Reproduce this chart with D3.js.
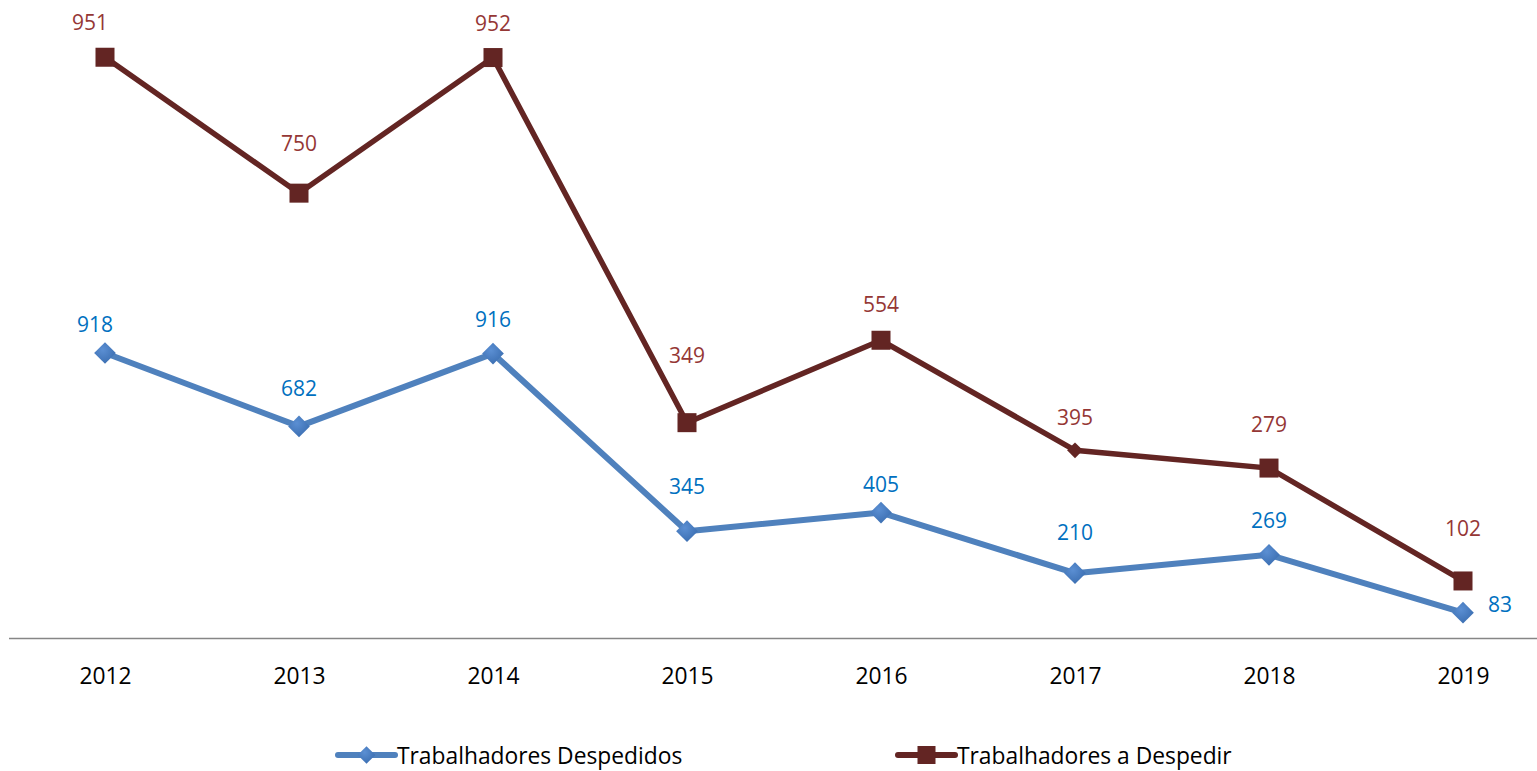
<!DOCTYPE html>
<html><head><meta charset="utf-8">
<script src="https://cdn.jsdelivr.net/npm/d3@7"></script>
<style>html,body{margin:0;padding:0;background:#fff;}svg{display:block;font-family:"Open Sans",sans-serif;}</style>
</head><body>
<svg id="c" width="1537" height="771"></svg>
<script>
const years = ["2012","2013","2014","2015","2016","2017","2018","2019"];
const despedidos = [918, 682, 916, 345, 405, 210, 269, 83];
const aDespedir = [951, 750, 952, 349, 554, 395, 279, 102];
const seriesNames = ["Trabalhadores Despedidos", "Trabalhadores a Despedir"];
// label vertical offsets (px above point) as placed in original
const blueLabelDy = [29, 38, 35, 45, 29, 41, 35, 0];
const redLabelDy = [35, 50, 35, 68, 36, 33, 44, 53];
const redMarker = ["sq","sq","sq","sq","sq","dia","sq","sq"];

const FONT = '"Open Sans",sans-serif';
const svg = d3.select("#c");
const x = d3.scalePoint().domain(years).range([8, 1560]).padding(0.5);
const y = d3.scaleLinear().domain([0, 2000]).range([638.5, 16.5]);

const stacked = despedidos.map((d, i) => d + aDespedir[i]);
const blueC = "#4F81BD", redC = "#632523", blueL = "#0070C0", redL = "#953735";

// axis baseline
svg.append("line").attr("x1", 9).attr("x2", 1537).attr("y1", y(0)).attr("y2", y(0))
  .attr("stroke", "#868686").attr("stroke-width", 1.5);

const xAxis = d3.axisBottom(x).tickSize(0).tickPadding(0);
const gx = svg.append("g").attr("transform", `translate(0,${y(0)})`).call(xAxis);
gx.select(".domain").remove();
gx.selectAll("text").attr("font-size", 22.8).attr("fill", "#000").attr("dy", 0).attr("y", 45.5)
  .style("font-family", FONT);

const line = d3.line().x(d => x(d[0])).y(d => y(d[1]));

const defs = svg.append("defs");
const g1 = defs.append("radialGradient").attr("id", "bg").attr("cx", "40%").attr("cy", "35%").attr("r", "70%");
g1.append("stop").attr("offset", "0%").attr("stop-color", "#5b8fd3");
g1.append("stop").attr("offset", "100%").attr("stop-color", "#3a6db0");

// red line
svg.append("path").datum(years.map((yr, i) => [yr, stacked[i]])).attr("d", line)
  .attr("fill", "none").attr("stroke", redC).attr("stroke-width", 5.5).attr("stroke-linejoin", "miter");
// blue line
svg.append("path").datum(years.map((yr, i) => [yr, despedidos[i]])).attr("d", line)
  .attr("fill", "none").attr("stroke", blueC).attr("stroke-width", 6).attr("stroke-linejoin", "round");

// red markers
years.forEach((yr, i) => {
  const cx = x(yr), cy = y(stacked[i]);
  if (redMarker[i] === "sq") {
    svg.append("rect").attr("x", cx - 9.5).attr("y", cy - 9.5).attr("width", 19).attr("height", 19).attr("fill", redC);
  } else {
    svg.append("path").attr("d", d3.symbol(d3.symbolDiamond2, 160)()).attr("transform", `translate(${cx},${cy})`).attr("fill", redC);
  }
});
// blue markers
years.forEach((yr, i) => {
  svg.append("path").attr("d", d3.symbol(d3.symbolDiamond2, 300)())
    .attr("transform", `translate(${x(yr)},${y(despedidos[i])})`).attr("fill", "url(#bg)");
});

// labels
years.forEach((yr, i) => {
  const first = i === 0;
  svg.append("text").attr("x", x(yr) - (first ? 15 : 0)).attr("y", y(stacked[i]) - redLabelDy[i])
    .attr("text-anchor", "middle").attr("dominant-baseline", "central")
    .attr("font-size", 21).attr("fill", redL).text(aDespedir[i]);
  const last = i === years.length - 1;
  svg.append("text").attr("x", last ? x(yr) + 25 : x(yr) - (first ? 10 : 0)).attr("y", y(despedidos[i]) - (last ? 9 : blueLabelDy[i]))
    .attr("text-anchor", last ? "start" : "middle").attr("dominant-baseline", "central")
    .attr("font-size", 21).attr("fill", blueL).text(despedidos[i]);
});

// legend
const legend = [
  {name: seriesNames[0], color: blueC, x: 338, mk: "dia"},
  {name: seriesNames[1], color: redC, x: 898, mk: "sq"}
];
legend.forEach(l => {
  const ly = 755;
  svg.append("line").attr("x1", l.x).attr("x2", l.x + 57).attr("y1", ly).attr("y2", ly)
    .attr("stroke", l.color).attr("stroke-width", 6).attr("stroke-linecap", "round");
  if (l.mk === "sq") svg.append("rect").attr("x", l.x + 28.5 - 9).attr("y", ly - 9).attr("width", 18).attr("height", 18).attr("fill", l.color);
  else svg.append("path").attr("d", d3.symbol(d3.symbolDiamond2, 200)()).attr("transform", `translate(${l.x + 28.5},${ly})`).attr("fill", "url(#bg)");
  svg.append("text").attr("x", l.x + 59).attr("y", ly).attr("dominant-baseline", "central")
    .attr("font-size", 22.8).attr("fill", "#000").text(l.name);
});
</script>
</body></html>
